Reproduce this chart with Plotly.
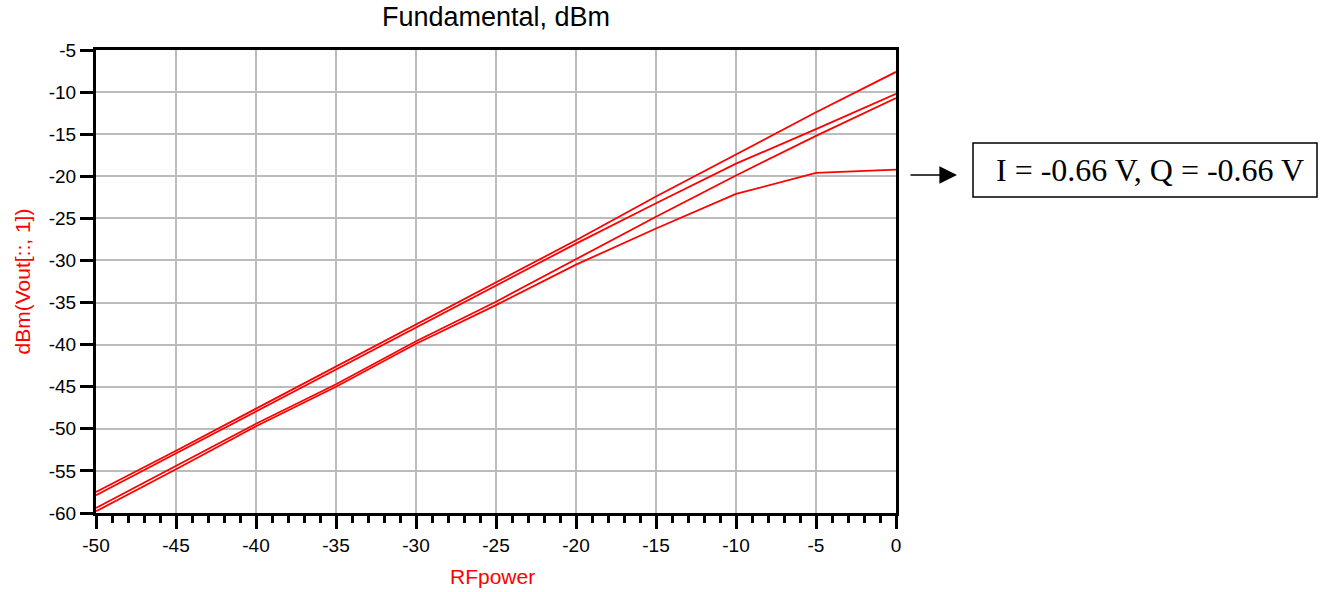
import plotly.graph_objects as go

# RF input power (dBm)
rf_power = [-50, -45, -40, -35, -30, -25, -20, -15, -10, -5, 0]

# Fundamental output power, dBm (four curves)
curve_1 = [-57.5, -52.6, -47.6, -42.6, -37.6, -32.6, -27.6, -22.4, -17.4, -12.4, -7.6]
curve_2 = [-57.9, -52.9, -47.9, -42.9, -37.9, -32.9, -28.0, -23.2, -18.5, -14.4, -10.2]
curve_3 = [-59.4, -54.4, -49.4, -44.7, -39.6, -34.9, -29.8, -24.8, -19.9, -15.2, -10.7]
curve_4 = [-59.8, -54.8, -49.7, -45.0, -39.9, -35.3, -30.5, -26.2, -22.1, -19.6, -19.2]

curves = [curve_1, curve_2, curve_3, curve_4]

x_ticks = [-50, -45, -40, -35, -30, -25, -20, -15, -10, -5, 0]
x_tick_labels = ["-50", "-45", "-40", "-35", "-30", "-25", "-20", "-15", "-10", "-5", "0"]
y_ticks = [-60, -55, -50, -45, -40, -35, -30, -25, -20, -15, -10, -5]
y_tick_labels = ["-60", "-55", "-50", "-45", "-40", "-35", "-30", "-25", "-20", "-15", "-10", "-5"]

fig = go.Figure()
for c in curves:
    fig.add_trace(go.Scatter(x=rf_power, y=c, mode="lines",
                             line=dict(color="#ff0000", width=1.8),
                             showlegend=False, hoverinfo="x+y"))

axis_common = dict(
    showline=True, linecolor="black", linewidth=3, mirror=True,
    showgrid=True, gridcolor="#bcbcbc", gridwidth=2,
    zeroline=False, ticks="outside", ticklen=13, tickwidth=2.5, tickcolor="black",
    tickfont=dict(family="Arial", size=19, color="black"),
)

fig.update_layout(
    width=1326, height=592,
    margin=dict(l=96, r=430, t=50, b=79),
    paper_bgcolor="white", plot_bgcolor="white",
    title=dict(text="Fundamental, dBm", x=0.5, xref="paper", xanchor="center",
               y=1 - 17 / 592, yref="container", yanchor="middle",
               font=dict(family="Arial", size=27, color="black")),
    xaxis=dict(range=[-50, 0], tickvals=x_ticks, ticktext=x_tick_labels,
               minor=dict(dtick=1, ticks="outside", ticklen=7, tickwidth=2.5,
                          tickcolor="black", showgrid=False),
               **axis_common),
    yaxis=dict(range=[-60, -5], tickvals=y_ticks, ticktext=y_tick_labels, **axis_common),
)

fig.add_annotation(text="RFpower", x=0.496, y=-0.138, xref="paper", yref="paper",
                   showarrow=False, xanchor="center", yanchor="middle",
                   font=dict(family="Arial", size=21, color="#ff0000"))
fig.add_annotation(text="dBm(Vout[::, 1])", x=-0.0925, y=0.5, xref="paper", yref="paper",
                   showarrow=False, textangle=-90, xanchor="center", yanchor="middle",
                   font=dict(family="Arial", size=21, color="#ff0000"))

# arrow
fig.add_annotation(x=1.07625, y=0.730, xref="paper", yref="paper", text="",
                   showarrow=True, ax=-48, ay=0, arrowhead=2, arrowsize=2.2,
                   arrowwidth=1.6, arrowcolor="black")
# box
fig.add_shape(type="rect", xref="paper", yref="paper",
              x0=1.09625, x1=1.52625, y0=0.6825, y1=0.799,
              line=dict(color="black", width=1.5), fillcolor="white")
fig.add_annotation(text="I = -0.66 V, Q = -0.66 V", x=1.3175, y=0.741,
                   xref="paper", yref="paper", showarrow=False,
                   xanchor="center", yanchor="middle",
                   font=dict(family="Liberation Serif", size=32, color="black"))

fig.write_html("out.html")
